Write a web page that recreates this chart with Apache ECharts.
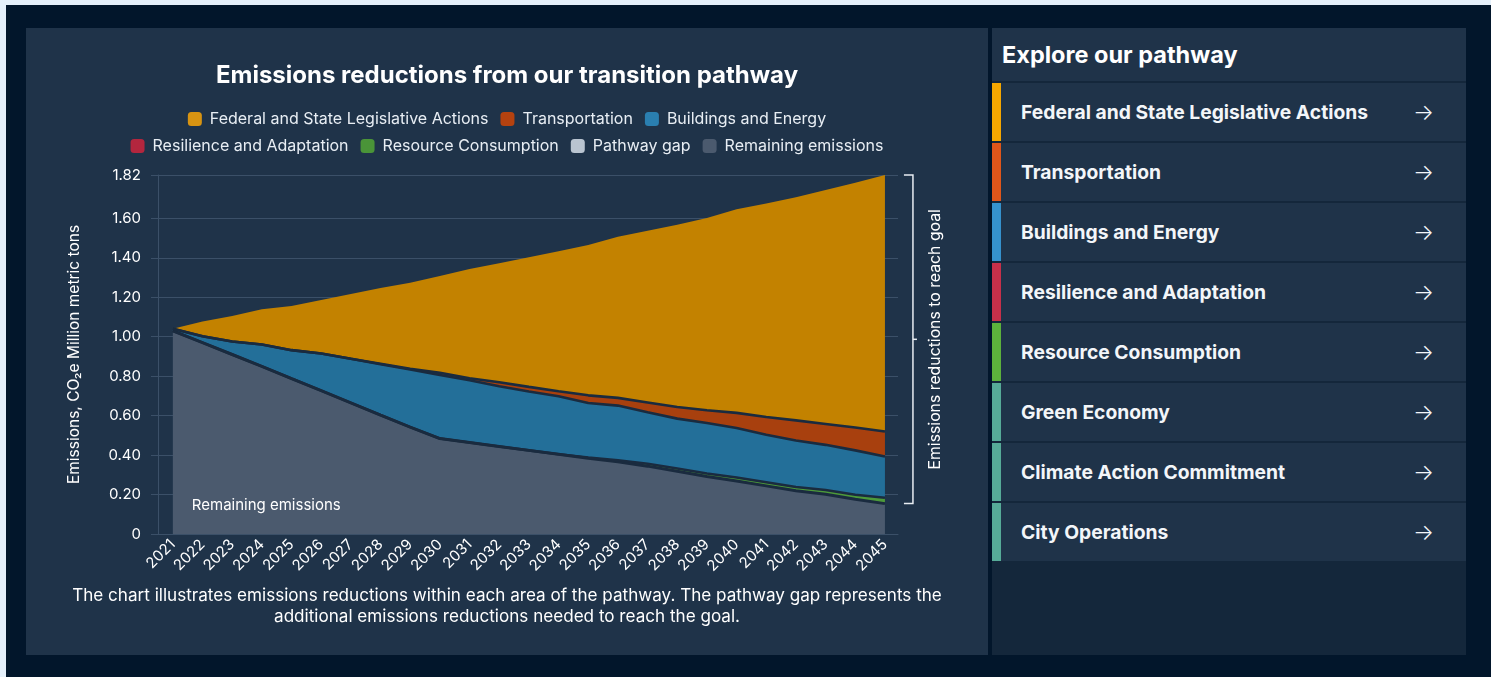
<!DOCTYPE html>
<html>
<head>
<meta charset="utf-8">
<title>Emissions reductions</title>
<script src="https://cdn.jsdelivr.net/npm/echarts@6/dist/echarts.min.js"></script>
<style>
  html, body { margin: 0; padding: 0; }
  body { width: 1491px; height: 677px; background: #e5f0fa; position: relative; overflow: hidden; font-family: Inter, "Noto Sans", sans-serif; }
  #frame { position: absolute; left: 6px; top: 5px; width: 1485px; height: 672px; background: #02162b; }
  #chart { position: absolute; left: 26px; top: 28px; width: 962px; height: 627px; }
  #side { position: absolute; left: 992px; top: 28px; width: 474px; height: 627px; background: #14273b; }
  #side .head { height: 53px; line-height: 54px; padding-left: 10px; background: #1f3349; color: #fff; font-size: 23.5px; font-weight: 700; }
  #side .item { position: relative; height: 58px; margin-top: 2px; background: #1f3349; color: #f3f6f9; font-size: 19.3px; font-weight: 700; line-height: 58px; padding-left: 29px; }
  #side .item .bar { position: absolute; left: 0; top: 0; width: 9px; height: 58px; }
  #side .item .arrow { position: absolute; right: 32px; top: 0; font-weight: 300; font-size: 22px; line-height: 58px; }
</style>
</head>
<body>
<div id="frame"></div>
<div id="chart"></div>
<div id="side"></div>
<script>
// years on the x axis
const years = [2021, 2022, 2023, 2024, 2025, 2026, 2027, 2028, 2029, 2030, 2031, 2032, 2033,
  2034, 2035, 2036, 2037, 2038, 2039, 2040, 2041, 2042, 2043, 2044, 2045];

// stacked values, million metric tons CO2e (bottom to top)
const remaining = [1.03, 0.97, 0.91, 0.85, 0.788, 0.727, 0.665, 0.603, 0.542, 0.484, 0.464, 0.444, 0.424,
  0.404, 0.384, 0.366, 0.344, 0.318, 0.291, 0.269, 0.244, 0.219, 0.202, 0.176, 0.154];
const pathwayGap = [0, 0, 0, 0, 0, 0, 0, 0, 0, 0, 0, 0, 0,
  0, 0, 0, 0, 0, 0, 0, 0, 0, 0, 0, 0];
const resource = [0, 0, 0, 0, 0, 0, 0, 0, 0, 0, 0, 0, 0,
  0, 0.004, 0.008, 0.012, 0.014, 0.016, 0.017, 0.018, 0.019, 0.021, 0.023, 0.03];
const resilience = [0, 0, 0, 0, 0, 0, 0, 0, 0, 0, 0, 0, 0,
  0, 0, 0, 0, 0, 0, 0, 0, 0, 0, 0, 0];
const buildings = [0.01, 0.033, 0.066, 0.111, 0.144, 0.188, 0.223, 0.258, 0.292, 0.322, 0.315, 0.305, 0.298,
  0.294, 0.276, 0.277, 0.261, 0.253, 0.256, 0.251, 0.241, 0.236, 0.229, 0.225, 0.209];
const transportation = [0, 0, 0, 0, 0, 0, 0, 0.002, 0.004, 0.011, 0.011, 0.02, 0.024,
  0.026, 0.039, 0.039, 0.05, 0.059, 0.064, 0.077, 0.09, 0.102, 0.106, 0.116, 0.127];
const federal = [0, 0.074, 0.129, 0.178, 0.224, 0.271, 0.329, 0.384, 0.436, 0.491, 0.553, 0.603, 0.657,
  0.709, 0.762, 0.817, 0.871, 0.924, 0.975, 1.032, 1.083, 1.131, 1.186, 1.241, 1.30];

const yTicks = [0, 0.2, 0.4, 0.6, 0.8, 1.0, 1.2, 1.4, 1.6, 1.82];

const pathwayAreas = [
  { name: 'Federal and State Legislative Actions', color: '#f5a700' },
  { name: 'Transportation', color: '#e0561a' },
  { name: 'Buildings and Energy', color: '#3592cd' },
  { name: 'Resilience and Adaptation', color: '#c7304a' },
  { name: 'Resource Consumption', color: '#5cb23c' },
  { name: 'Green Economy', color: '#56ab98' },
  { name: 'Climate Action Commitment', color: '#56ab98' },
  { name: 'City Operations', color: '#56ab98' },
];

// side list
const side = document.getElementById('side');
side.innerHTML = '<div class="head">Explore our pathway</div>' + pathwayAreas.map(a =>
  '<div class="item"><span class="bar" style="background:' + a.color + '"></span>' + a.name +
  '<span class="arrow">&#8594;</span></div>').join('');

const last = years.length - 1;
const goalTop = remaining[last] + pathwayGap[last] + resource[last] + resilience[last] +
  buildings[last] + transportation[last] + federal[last];
const goalBottom = remaining[last];

const area = (name, values, legendColor, fillColor, lineWidth) => ({
  name,
  type: 'line',
  stack: 'total',
  symbol: 'none',
  color: legendColor,
  encode: { x: 1, y: 0 },
  data: values.map((v, i) => [v, years[i]]),
  lineStyle: { color: '#1a2b3f', width: lineWidth === undefined ? 2.6 : lineWidth },
  areaStyle: { color: fillColor, opacity: 1 },
  emphasis: { disabled: true },
});

const remainingSeries = area('Remaining emissions', remaining, '#4b5a6e', '#4b5a6e', 3);
remainingSeries.markPoint = {
  symbolSize: 0,
  silent: true,
  data: [{ coord: [2021.64, 0.147] }],
  label: { show: true, position: 'right', distance: 0, formatter: 'Remaining emissions', color: '#fff', fontSize: 15 },
};

const legendBase = {
  left: 'center', icon: 'roundRect', itemWidth: 14, itemHeight: 14, itemGap: 12,
  itemStyle: { borderWidth: 0 },
  textStyle: { color: '#e8eef4', fontSize: 16, padding: [0, 0, 0, 3] },
  selectedMode: false,
};

const chart = echarts.init(document.getElementById('chart'));
chart.setOption({
  backgroundColor: '#1f3349',
  animation: false,
  textStyle: { fontFamily: 'Inter' },
  title: [
    {
      text: 'Emissions reductions from our transition pathway',
      left: 'center', top: 31,
      textStyle: { color: '#fff', fontSize: 24, fontWeight: 700 },
    },
    {
      text: 'The chart illustrates emissions reductions within each area of the pathway. The pathway gap represents the\nadditional emissions reductions needed to reach the goal.',
      left: 'center', top: 552,
      textStyle: { color: '#fff', fontSize: 17.1, fontWeight: 'normal', lineHeight: 21 },
    },
  ],
  legend: [
    Object.assign({ data: ['Federal and State Legislative Actions', 'Transportation', 'Buildings and Energy'], top: 78 }, legendBase),
    Object.assign({ data: ['Resilience and Adaptation', 'Resource Consumption', 'Pathway gap', 'Remaining emissions'], top: 105 }, legendBase),
  ],
  grid: { left: 132, right: 90, top: 147, bottom: 121 },
  xAxis: {
    type: 'value',
    min: 2020.5,
    max: 2045.44,
    axisLine: { show: true, lineStyle: { color: '#3b5068' } },
    axisTick: { show: false },
    splitLine: { show: false },
    axisLabel: { customValues: years, rotate: 45, color: '#fff', fontSize: 15, margin: 8, formatter: v => String(v) },
  },
  yAxis: {
    type: 'value',
    min: 0,
    max: 1.82,
    name: 'Emissions, CO\u2082e Million metric tons',
    nameLocation: 'middle',
    nameGap: 76,
    nameRotate: 90,
    nameTextStyle: { color: '#fff', fontSize: 15.5 },
    axisLine: { show: true, lineStyle: { color: '#3b5068' } },
    axisTick: { show: true, length: 7, customValues: yTicks, lineStyle: { color: '#3b5068' } },
    axisLabel: { customValues: yTicks, color: '#fff', fontSize: 15, margin: 17, formatter: v => (v === 0 ? '0' : v.toFixed(2)) },
    splitLine: { show: true, lineStyle: { color: '#3b5068' } },
  },
  series: [
    remainingSeries,
    area('Pathway gap', pathwayGap, '#b9c4d0', '#b9c4d0', 0),
    area('Resource Consumption', resource, '#4a9438', '#4d9a3a'),
    area('Resilience and Adaptation', resilience, '#b3263e', '#a8263a', 0),
    area('Buildings and Energy', buildings, '#2a7fb0', '#236f99'),
    area('Transportation', transportation, '#b5420f', '#a8400e'),
    area('Federal and State Legislative Actions', federal, '#d89412', '#c38200', 0),
    {
      // bracket on the right: reductions needed to reach goal
      type: 'custom',
      silent: true,
      clip: false,
      z: 10,
      data: [[years[last], goalTop, goalBottom]],
      renderItem: (params, api) => {
        const top = api.coord([api.value(0), api.value(1)]);
        const bot = api.coord([api.value(0), api.value(2)]);
        const x = top[0] + 28;
        const mid = (top[1] + bot[1]) / 2;
        return {
          type: 'group',
          children: [
            { type: 'polyline', shape: { points: [[x - 9, top[1]], [x, top[1]], [x, bot[1]], [x - 9, bot[1]]] },
              style: { stroke: '#e8edf2', lineWidth: 1.5, fill: null } },
            { type: 'line', shape: { x1: x, y1: mid, x2: x + 4, y2: mid }, style: { stroke: '#e8edf2', lineWidth: 1.5 } },
            { type: 'text', x: x + 22, y: mid, rotation: Math.PI / 2,
              style: { text: 'Emissions reductions to reach goal', fill: '#fff', font: '15.8px Inter', align: 'center', verticalAlign: 'middle' } },
          ],
        };
      },
    },
  ],
});
</script>
</body>
</html>
